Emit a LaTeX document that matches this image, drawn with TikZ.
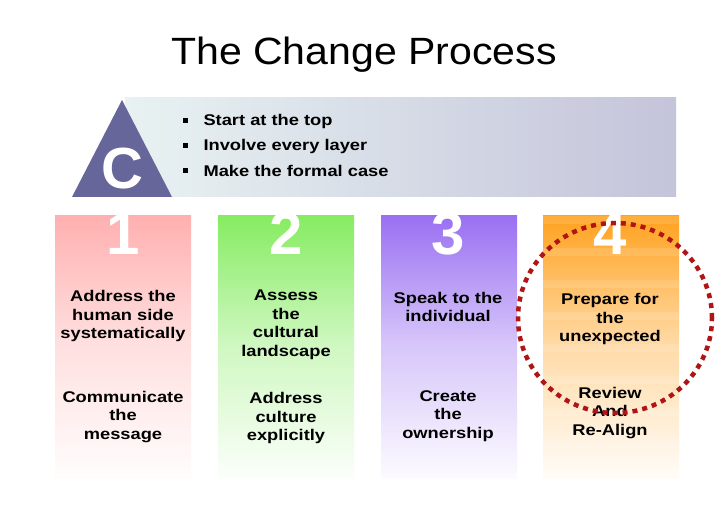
\documentclass[tikz,border=0pt]{standalone}
\usepackage{fontspec}
\setmainfont{Liberation Sans}
\newfontfamily\widefont[FakeStretch=1.18]{Liberation Sans}
\newfontfamily\titlefont[FakeStretch=1.08]{Liberation Sans}
\definecolor{tri}{HTML}{66669A}
\definecolor{banL}{HTML}{E8F2F2}
\definecolor{banR}{HTML}{C4C4DA}
\definecolor{c1}{HTML}{FFB0B0}
\definecolor{c2}{HTML}{86EC62}
\definecolor{c3}{HTML}{9A70F2}
\definecolor{c4}{HTML}{FFA21F}
\definecolor{ring}{HTML}{B01414}
\begin{document}
\begin{tikzpicture}[x=1pt,y=1pt,
  coltext/.style={align=center,font=\widefont\fontsize{15.5}{18.5}\selectfont\bfseries,text=black},
  numtext/.style={anchor=base,font=\fontsize{60}{60}\selectfont\bfseries,text=white},
  bullet/.style={anchor=west,font=\widefont\fontsize{15.5}{18}\selectfont\bfseries}]
\useasboundingbox (0,0) rectangle (728,504);
\fill[white] (0,0) rectangle (728,504);
% title
\node[font=\titlefont\fontsize{38}{40}\selectfont] (title) at (364,449) {The Change Process};
% banner
\shade[left color=banL,right color=banR] (125,307) rectangle (676,406);
\fill[tri] (122,404) -- (172,307) -- (72,307) -- cycle;
\node[font=\fontsize{58}{58}\selectfont\bfseries,text=white] (C) at (122,335) {C};
\foreach \t [count=\i] in {Start at the top,Involve every layer,Make the formal case}{
  \fill (183,{384-25*(\i-1)-3}) rectangle +(5,5);
  \node[bullet] (b\i) at (200,{383-25*(\i-1)}) {\t};
}
% columns
\foreach \x/\c [count=\i] in {55/c1,218/c2,381/c3,543/c4}{
  \shade[top color=\c,bottom color=\c!40] (\x,160) rectangle ++(136,128);
  \shade[top color=\c!40,bottom color=\c!3] (\x,26) rectangle ++(136,134);
}
% stripes in column 4
\foreach \k in {0,2,...,14}{
  \fill[white,opacity=0.12] (543,{288-\k*16}) rectangle ++(136,-8);
}
% numbers
\begin{scope}
\clip (55,26) rectangle (191,288);
\node[numtext] (n1) at (123,249) {1};
\end{scope}
\begin{scope}
\clip (218,26) rectangle (354,288);
\node[numtext] (n2) at (286,249) {2};
\end{scope}
\begin{scope}
\clip (381,26) rectangle (517,288);
\node[numtext] (n3) at (448,249) {3};
\end{scope}
\begin{scope}
\clip (543,26) rectangle (679,288);
\node[numtext] (n4) at (610,249) {4};
\end{scope}
% texts
\node[coltext] (t1a) at (123,188) {Address the\\human side\\systematically};
\node[coltext] (t1b) at (123,87) {Communicate\\the\\message};
\node[coltext] (t2a) at (286,179) {Assess\\the\\cultural\\landscape};
\node[coltext] (t2b) at (286,86) {Address\\culture\\explicitly};
\node[coltext] (t3a) at (448,197) {Speak to the\\individual};
\node[coltext] (t3b) at (448,88) {Create\\the\\ownership};
\node[coltext] (t4a) at (610,185) {Prepare for\\the\\unexpected};
\node[coltext] (t4b) at (610,91) {Review\\And\\Re-Align};
% dotted ring
\draw[ring,line width=4.5pt,dash pattern=on 5pt off 5pt] (615,186) ellipse (97 and 95);
\end{tikzpicture}
\end{document}
